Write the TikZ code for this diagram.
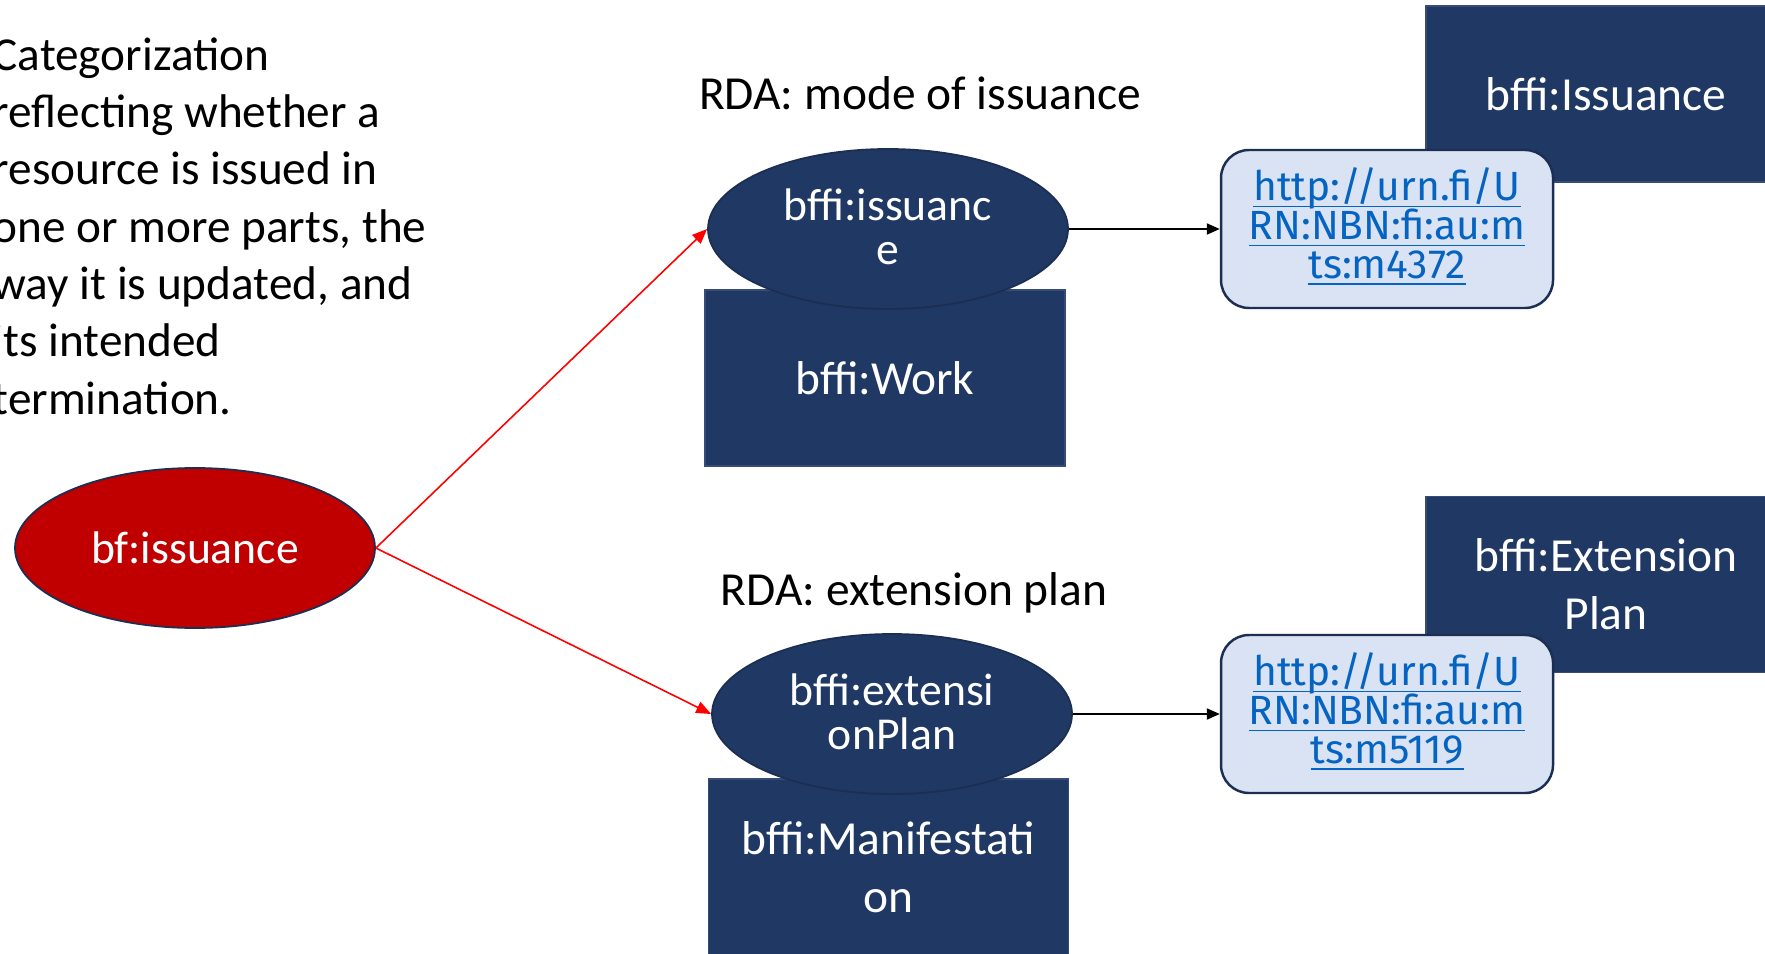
\documentclass[tikz,border=0pt]{standalone}
\usepackage{fontspec}
\setmainfont{Carlito}
\newfontfamily\urifont{Fira Sans}
\usetikzlibrary{shapes.geometric}
\usetikzlibrary{arrows.meta}
\definecolor{navy}{RGB}{32,56,100}
\definecolor{navyline}{RGB}{28,46,82}
\definecolor{darkred}{RGB}{192,0,0}
\definecolor{urifill}{RGB}{218,227,243}
\definecolor{urilink}{RGB}{5,99,193}
\newcommand\uriline[1]{\underline{\smash{#1}\rule[-0.3pt]{0pt}{7pt}}}
\tikzset{
    classbox/.style={rectangle,fill=navy,draw=navy!90!white,line width=0.4pt,text=white,
        minimum width=3.6cm,minimum height=1.76cm,align=center,inner sep=0pt,
        font=\fontsize{13.5}{16.6}\selectfont},
    propnode/.style={ellipse,fill=navy,draw=navyline,line width=0.5pt,text=white,
        minimum width=3.6cm,minimum height=1.6cm,align=center,inner sep=0pt,
        font=\fontsize{13}{12.5}\selectfont},
    uribox/.style={rectangle,rounded corners=0.28cm,fill=urifill,draw=navyline,line width=0.7pt,
        text=urilink,minimum width=3.32cm,minimum height=1.58cm,align=center,inner sep=0pt,
        font=\urifont\fontsize{11.6}{11}\selectfont},
    rdalabel/.style={font=\fontsize{13.5}{16.5}\selectfont,inner sep=0pt},
    redarrow/.style={draw=red,line width=0.45pt,-{Triangle[length=0.15cm,width=0.12cm]}},
    blackarrow/.style={draw=black,line width=0.6pt,-{Triangle[length=0.13cm,width=0.11cm]}},
}

\begin{document}
\begin{tikzpicture}
\useasboundingbox (0,0) rectangle (17.65,-9.53);
% description
\node[align=left,anchor=north west,inner sep=0pt,font=\fontsize{13.45}{16.3}\selectfont] (note) at (-0.08,-0.37)
    {Categorization\\reflecting whether a\\resource is issued in\\one or more parts, the\\way it is updated, and\\its intended\\termination.};
% classes
\node[classbox] (work) at (8.85,-3.78) {bffi:Work};
\node[classbox] (manif) at (8.885,-8.67) {bffi:Manifestati\\on};
\node[classbox] (issclass) at (16.06,-0.94) {bffi:Issuance};
\node[classbox] (extclass) at (16.06,-5.845) {bffi:Extension\\Plan};
% properties
\node[propnode] (issuance) at (8.88,-2.29) {\raisebox{1.2pt}{bffi:issuanc}\\\raisebox{1.2pt}{e}};
\node[propnode] (extplan) at (8.92,-7.14) {\raisebox{1.2pt}{bffi:extensi}\\\raisebox{1.2pt}{onPlan}};
\node[propnode,fill=darkred] (bfiss) at (1.95,-5.48) {bf:issuance};
\node[rdalabel] (rda1) at (9.20,-0.93) {RDA: mode of issuance};
\node[rdalabel] (rda2) at (9.14,-5.93) {RDA: extension plan};
% values
\node[uribox] (uri1) at (13.87,-2.29) {\rule{0pt}{8.2pt}\uriline{http://urn.fi/U}\\\uriline{RN:NBN:fi:au:m}\\\uriline{ts:m4372}};
\node[uribox] (uri2) at (13.87,-7.14) {\rule{0pt}{8.2pt}\uriline{http://urn.fi/U}\\\uriline{RN:NBN:fi:au:m}\\\uriline{ts:m5119}};
% links
\draw[redarrow] (bfiss.east) -- (issuance.west);
\draw[redarrow] (bfiss.east) -- (extplan.west);
\draw[blackarrow] (issuance.east) -- (uri1.west);
\draw[blackarrow] (extplan.east) -- (uri2.west);
\end{tikzpicture}
\end{document}
